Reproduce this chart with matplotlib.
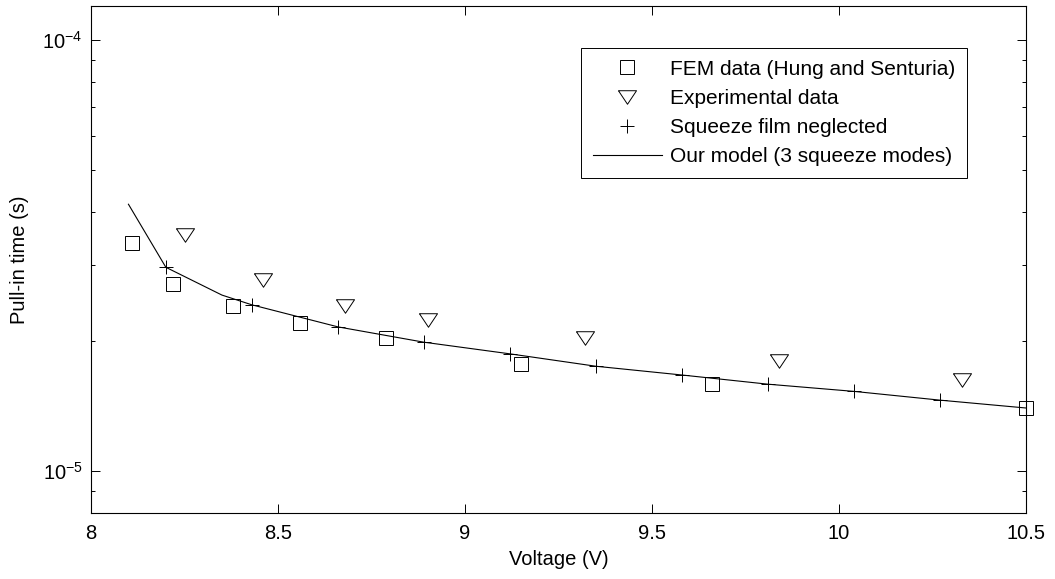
import math
import matplotlib
matplotlib.use("Agg")
import matplotlib.pyplot as plt
from matplotlib.ticker import FixedLocator, LogLocator, NullFormatter, FuncFormatter

plt.rcParams['font.family'] = ['Liberation Sans', 'DejaVu Sans']
plt.rcParams['mathtext.fontset'] = 'custom'
plt.rcParams['mathtext.rm'] = 'Liberation Sans'
plt.rcParams['mathtext.it'] = 'Liberation Sans'

# FEM data (Hung and Senturia)
fem_v = [8.11, 8.22, 8.38, 8.56, 8.79, 9.15, 9.66, 10.50]
fem_t = [3.38e-5, 2.72e-5, 2.42e-5, 2.20e-5, 2.03e-5, 1.77e-5, 1.59e-5, 1.40e-5]

# experimental data
exp_v = [8.25, 8.46, 8.68, 8.90, 9.32, 9.84, 10.33]
exp_t = [3.53e-5, 2.77e-5, 2.42e-5, 2.24e-5, 2.03e-5, 1.80e-5, 1.63e-5]

# squeeze film neglected
nosq_v = [8.20, 8.43, 8.66, 8.89, 9.12, 9.35, 9.58, 9.81, 10.04, 10.27]
nosq_t = [2.97e-5, 2.43e-5, 2.16e-5, 1.99e-5, 1.87e-5, 1.75e-5, 1.67e-5, 1.59e-5, 1.53e-5, 1.46e-5]

# our model (3 squeeze modes)
model_v = [8.10, 8.20, 8.35, 8.43, 8.66, 8.89, 9.12, 9.35, 9.58, 9.81, 10.04, 10.27, 10.50]
model_t = [4.16e-5, 2.97e-5, 2.56e-5, 2.43e-5, 2.16e-5, 1.99e-5, 1.87e-5, 1.75e-5, 1.67e-5,
           1.59e-5, 1.53e-5, 1.46e-5, 1.40e-5]

x_ticks = [8, 8.5, 9, 9.5, 10, 10.5]

fs = 14.5
tri = [(-1, 0.75), (1, 0.75), (0, -0.75), (-1, 0.75)]

fig = plt.figure(figsize=(10.55, 5.79), dpi=100)
ax = fig.add_axes([0.0863, 0.1145, 0.8862, 0.8751])

ax.plot(fem_v, fem_t, linestyle='none', marker='s', ms=10, mfc='none', mec='black', mew=0.7,
        clip_on=False, label='FEM data (Hung and Senturia)')
ax.plot(exp_v, exp_t, linestyle='none', marker=tri, ms=13, mfc='none', mec='black', mew=0.7,
        clip_on=False, label='Experimental data')
ax.plot(nosq_v, nosq_t, linestyle='none', marker='+', ms=10, mec='black', mew=0.7,
        clip_on=False, label='Squeeze film neglected')
ax.plot(model_v, model_t, color='black', lw=0.8, label='Our model (3 squeeze modes)')

ax.set_yscale('log')
ax.set_xlim(8, 10.5)
ax.set_ylim(8e-6, 1.2e-4)
ax.xaxis.set_major_locator(FixedLocator(x_ticks))
ax.xaxis.set_major_formatter(FuncFormatter(lambda v, p: '%g' % v))
ax.yaxis.set_major_locator(LogLocator(base=10))
ax.yaxis.set_minor_locator(LogLocator(base=10, subs=range(2, 10)))
ax.yaxis.set_minor_formatter(NullFormatter())
ax.yaxis.set_major_formatter(FuncFormatter(lambda v, p: r'$10^{%d}$' % round(math.log10(v))))

ax.tick_params(which='both', direction='in', top=True, right=True, labelsize=fs, width=0.7)
ax.tick_params(which='major', length=6.5)
ax.tick_params(which='minor', length=3)
ax.tick_params(axis='x', pad=8)
ax.tick_params(axis='y', pad=6)
for s in ax.spines.values():
    s.set_linewidth(0.8)

ax.set_xlabel('Voltage (V)', fontsize=fs, labelpad=5)
ax.set_ylabel('Pull-in time (s)', fontsize=fs, labelpad=10)

leg = ax.legend(loc='upper right', bbox_to_anchor=(0.9366, 0.9165), borderaxespad=0,
                fontsize=15, fancybox=False, edgecolor='black', framealpha=1,
                handlelength=3.3, handletextpad=0.4, labelspacing=0.49, borderpad=0.55)
leg.get_frame().set_linewidth(0.7)

fig.savefig('out.png', dpi=100)
